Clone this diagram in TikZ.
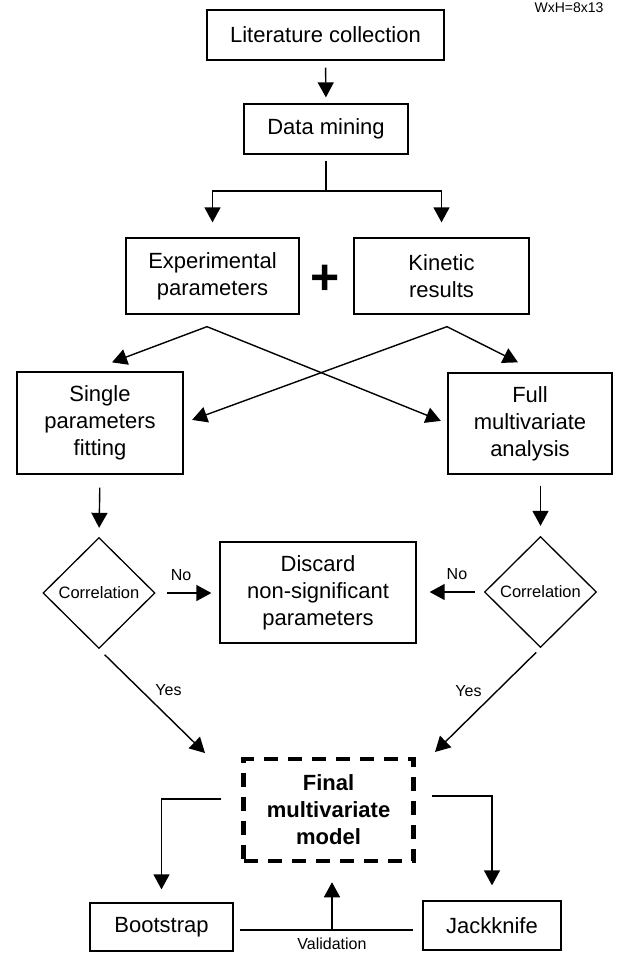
\documentclass[tikz,border=0pt]{standalone}
\usepackage{fontspec}
\setmainfont{Liberation Sans}
\usetikzlibrary{positioning,shapes.geometric,arrows.meta}

\begin{document}
\begin{tikzpicture}[x=1pt,y=-1pt,
  box/.style={draw, line width=1.3pt, inner sep=0pt, align=center, font=\fontsize{22}{27}\selectfont},
  decision/.style={draw, diamond, line width=1.3pt, inner sep=0pt, minimum width=112pt, minimum height=111pt, font=\fontsize{16.5}{20}\selectfont},
  arr/.style={-{Triangle[length=15pt,width=16pt]}, line width=1.4pt},
  lbl/.style={inner sep=0pt, font=\fontsize{16}{19}\selectfont}]
  \useasboundingbox (0,0) rectangle (621,954);

  % Nodes
  \node[lbl, anchor=base, font=\fontsize{14}{16}\selectfont] (wxh) at (569,12) {WxH=8x13};
  \node[box, minimum width=237pt, minimum height=50pt] (lit) at (325.5,35) {Literature collection};
  \node[box, minimum width=164pt, minimum height=50pt] (mining) at (326,129) {Data mining};
  \node[box, minimum width=173pt, minimum height=76pt] (exp) at (212.5,276) {Experimental\\parameters};
  \node[box, minimum width=175pt, minimum height=76pt] (kin) at (441.5,276) {Kinetic\\results};
  \node[inner sep=0pt, font=\fontsize{50}{50}\selectfont\bfseries] (plus) at (325,280) {+};
  \node[box, minimum width=166pt, minimum height=102pt] (single) at (100,423) {Single\\parameters\\fitting};
  \node[box, minimum width=164pt, minimum height=101pt] (full) at (530,423.5) {Full\\multivariate\\analysis};
  \node[decision] (corrL) at (99,593) {Correlation};
  \node[box, minimum width=196pt, minimum height=101pt] (discard) at (318,592.5) {Discard\\non-significant\\parameters};
  \node[decision] (corrR) at (540.5,592) {Correlation};
  \node[box, line width=4.5pt, dash pattern=on 14pt off 10pt, minimum width=170pt, minimum height=102pt,
        font=\fontsize{22}{27}\selectfont\bfseries] (final) at (328.5,810) {Final\\multivariate\\model};
  \node[box, minimum width=143pt, minimum height=48pt] (boot) at (161.5,927) {Bootstrap};
  \node[box, minimum width=138pt, minimum height=49pt] (jack) at (492,925.5) {Jackknife};

  % Free ends
  \coordinate (split) at (326,191);
  \coordinate (expout) at ([xshift=-5.5pt,yshift=-12pt]exp.south);
  \coordinate (kinout) at ([xshift=5.5pt,yshift=-12pt]kin.south);
  \coordinate (yesL) at (205,753);
  \coordinate (yesR) at (435,752);
  \coordinate (valid) at (332,930);

  % Top part
  \draw[arr, shorten <=7pt, shorten >=6pt] (lit.south) -- (mining.north);
  \draw[line width=1.4pt, shorten <=6pt] (mining.south) -- (split);
  \draw[arr, shorten >=15pt] (split) -| (exp.north);
  \draw[arr, shorten >=15pt] (split) -| (kin.north);

  % Cross
  \draw[arr] (expout) -- ([xshift=12pt,yshift=9pt]single.north);
  \draw[arr, shorten >=7pt] (expout) -- (full.west);
  \draw[arr, shorten >=9pt] (kinout) -- (single.east);
  \draw[arr] (kinout) -- ([xshift=-12pt,yshift=10pt]full.north);

  % Correlation tests
  \draw[arr, shorten <=13pt, shorten >=9pt] (single.south) -- (corrL.north);
  \draw[arr, shorten <=11pt, shorten >=10pt] (full.south -| corrR.north) -- (corrR.north);
  \draw[arr, shorten <=11pt, shorten >=8pt] (corrL.east) -- node[lbl, pos=0.4, above=12pt] (noL) {No} (discard.west |- corrL.east);
  \draw[arr, shorten <=9pt, shorten >=13pt] (corrR.west) -- node[lbl, pos=0.4, above=12pt] (noR) {No} (discard.east |- corrR.west);
  \draw[arr, shorten <=8pt] (corrL.south) -- node[lbl, pos=0.394, right=14pt] (yesLlbl) {Yes} (yesL);
  \draw[arr, shorten <=6pt] (corrR.south) -- node[lbl, pos=0.41, left=15pt] (yesRlbl) {Yes} (yesR);

  % Validation
  \draw[arr, shorten <=20pt, shorten >=13pt] ([yshift=11pt]final.west) -| (boot.north);
  \draw[arr, shorten <=16pt, shorten >=15pt] ([yshift=14pt]final.east) -| (jack.north);
  \draw[line width=1.4pt, shorten <=6pt, shorten >=9pt] (boot.east |- valid) -- (jack.west |- valid);
  \draw[arr, shorten >=19pt] (valid) -- (valid |- final.south);
  \node[lbl, below=8pt of valid] (vlbl) {Validation};

\end{tikzpicture}
\end{document}
